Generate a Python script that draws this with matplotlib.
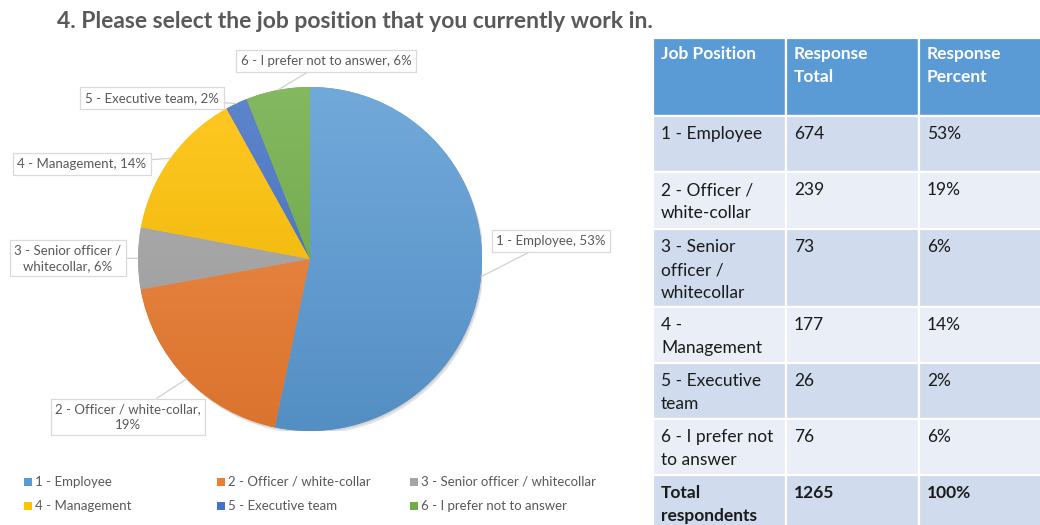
import numpy as np
import matplotlib
matplotlib.use('Agg')
import matplotlib.pyplot as plt
from matplotlib.colors import LinearSegmentedColormap, to_rgb
from matplotlib.patches import Rectangle, Circle

plt.rcParams['font.family'] = ['Lato', 'DejaVu Sans']

# survey answers
positions = ['1 - Employee', '2 - Officer / white-collar', '3 - Senior officer / whitecollar',
             '4 - Management', '5 - Executive team', '6 - I prefer not to answer']
counts = [674, 239, 73, 177, 26, 76]
pie_labels = ['1 - Employee', '2 - Officer / white-collar,\n', '3 - Senior officer /\nwhitecollar',
              '4 - Management', '5 - Executive team', '6 - I prefer not to answer']
table_labels = ['1 - Employee', '2 - Officer /\nwhite-collar', '3 - Senior\nofficer /\nwhitecollar',
                '4 -\nManagement', '5 - Executive\nteam', '6 - I prefer not\nto answer']
colors = ['#5B9BD5', '#ED7D31', '#A5A5A5', '#FFC000', '#4472C4', '#70AD47']
title = '4. Please select the job position that you currently work in.'

total = sum(counts)
pcts = [round(c / total * 100) for c in counts]

W, H = 1040, 525
fig = plt.figure(figsize=(W / 100, H / 100), dpi=100)

# pixel-space overlay for title, table and legend
bg = fig.add_axes([0, 0, 1, 1])
bg.set_xlim(0, W)
bg.set_ylim(H, 0)
bg.axis('off')

bg.text(57, 22, title, fontsize=16.5, fontweight='bold', color='#595959',
        ha='left', va='center')

# ---- pie ----
cx, cy, r = 310, 259, 172
ax = fig.add_axes([(cx - r) / W, (H - cy - r) / H, 2 * r / W, 2 * r / H])
ax.add_patch(Circle((0.012, -0.018), 1.0, color='#000000', alpha=0.10, lw=0, zorder=0))
ax.add_patch(Circle((0.006, -0.009), 1.0, color='#000000', alpha=0.08, lw=0, zorder=0))
wedges, _ = ax.pie(counts, colors=colors, startangle=90, counterclock=False,
                   radius=1.0, wedgeprops=dict(linewidth=0))


def shade(c, f):
    rgb = np.array(to_rgb(c))
    if f > 0:
        return tuple(rgb + (1 - rgb) * f)
    return tuple(rgb * (1 + f))


grad = np.linspace(0, 1, 256).reshape(-1, 1)
for w, c in zip(wedges, colors):
    cmap = LinearSegmentedColormap.from_list('g', [shade(c, -0.08), shade(c, 0.14)])
    im = ax.imshow(grad, extent=(-1, 1, -1, 1), origin='lower', cmap=cmap,
                   aspect='auto', zorder=w.get_zorder())
    im.set_clip_path(w)

ax.set_xlim(-1, 1)
ax.set_ylim(-1, 1)
ax.set_aspect('equal')
ax.axis('off')

# data labels with leader lines
label_xy = [(551, 241), (128, 417), (68, 258), (82, 164), (152, 98), (326, 61)]
for w, lab, p, (tx, ty) in zip(wedges, pie_labels, pcts, label_xy):
    mid = np.deg2rad((w.theta1 + w.theta2) / 2)
    px, py = np.cos(mid), np.sin(mid)
    if lab.endswith('\n'):
        txt = f'{lab}{p}%'
    else:
        txt = f'{lab}, {p}%'
    ax.annotate(txt, xy=(px, py), xycoords='data', xytext=(tx, ty),
                textcoords=bg.transData, ha='center', va='center',
                fontsize=9.5, color='#595959', linespacing=1.35,
                bbox=dict(boxstyle='square,pad=0.35', fc='white', ec='#D9D9D9', lw=0.9),
                arrowprops=dict(arrowstyle='-', color='#D0D0D0', lw=0.9,
                                shrinkA=0, shrinkB=0),
                annotation_clip=False)

# ---- legend ----
for i, (name, c) in enumerate(zip(positions, colors)):
    col, row = i % 3, i // 3
    lx = 28 + col * 193
    ly = 482 + row * 24
    bg.add_patch(Rectangle((lx - 4, ly - 4), 8, 8, fc=c, ec='none'))
    bg.text(lx + 7, ly, name, fontsize=9.5, color='#595959', ha='left', va='center')

# ---- table ----
col_x = [653, 786, 919, 1045]
row_y = [38, 116, 172, 229, 307, 363, 419, 475, 540]
header = ['Job Position', 'Response\nTotal', 'Response\nPercent']
rows = [[lab, str(c), f'{p}%'] for lab, c, p in zip(table_labels, counts, pcts)]
rows.append(['Total\nrespondents', str(total), f'{sum(pcts)}%'])

for j, h in enumerate(header):
    bg.add_patch(Rectangle((col_x[j], row_y[0]), col_x[j + 1] - col_x[j], row_y[1] - row_y[0],
                           fc='#5B9BD5', ec='white', lw=1.6))
    bg.text(col_x[j] + 8, row_y[0] + 8, h, fontsize=12.5, fontweight='bold', color='white',
            ha='left', va='top', linespacing=1.55)

for i, row in enumerate(rows):
    fc = '#D0DBEE' if i % 2 == 0 else '#E9EEF7'
    bold = i == len(rows) - 1
    for j, val in enumerate(row):
        bg.add_patch(Rectangle((col_x[j], row_y[i + 1]), col_x[j + 1] - col_x[j],
                               row_y[i + 2] - row_y[i + 1], fc=fc, ec='white', lw=1.6))
        bg.text(col_x[j] + 8, row_y[i + 1] + 10, val, fontsize=12.5, color='#1a1a1a',
                fontweight='bold' if bold else 'normal', ha='left', va='top', linespacing=1.55)

fig.savefig('out.png', dpi=100)
